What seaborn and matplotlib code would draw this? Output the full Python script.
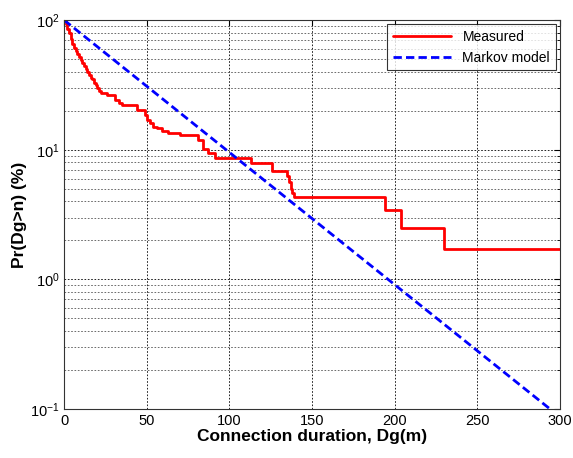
import numpy as np
import pandas as pd
import matplotlib
matplotlib.use("Agg")
import matplotlib.pyplot as plt
import matplotlib.ticker as mticker
import seaborn as sns

# -------------------------------
# Data
# -------------------------------
measured_x = [0, 1, 2, 3, 4, 5, 6, 7, 8, 9, 10, 11, 12, 13, 14, 15, 16, 17, 18,
              19, 20, 21, 22, 26, 31, 33, 35, 44, 49, 50, 52, 54, 56, 59, 63,
              70, 81, 84, 87, 91, 113, 126, 135, 136, 137, 138, 139, 194, 204,
              230, 300]
measured_y = [100, 93, 86, 79, 72, 66, 61, 58, 55, 52, 49, 47, 44, 42, 40, 38,
              36, 35, 33, 31.6, 30, 28.5, 27.3, 26.3, 24, 22.8, 22.1, 20.4,
              18.5, 16.9, 16, 15, 14.6, 14, 13.5, 13.0, 12.0, 10.2, 9.4, 8.6,
              7.86, 6.9, 6.3, 5.6, 5.0, 4.6, 4.3, 3.41, 2.5, 1.71, 1.71]

markov_x = [0, 300]
markov_y = [100, 0.087]

df_meas = pd.DataFrame({"x": measured_x, "y": measured_y})
df_markov = pd.DataFrame({"x": markov_x, "y": markov_y})

# -------------------------------
# Style
# -------------------------------
sns.set_style("white")
plt.rcParams["font.family"] = ["Liberation Sans", "DejaVu Sans"]
plt.rcParams["mathtext.fontset"] = "custom"
plt.rcParams["mathtext.rm"] = "Liberation Sans"
plt.rcParams["mathtext.it"] = "Liberation Sans:italic"
plt.rcParams["text.color"] = "k"
plt.rcParams["axes.labelcolor"] = "k"
plt.rcParams["xtick.color"] = "k"
plt.rcParams["ytick.color"] = "k"

fig = plt.figure(figsize=(5.73, 4.58), dpi=100)
ax = fig.add_axes([0.112, 0.107, 0.865, 0.849])

sns.lineplot(data=df_meas, x="x", y="y", ax=ax, color="#ff0000", lw=2,
             drawstyle="steps-post", estimator=None, label="Measured")
sns.lineplot(data=df_markov, x="x", y="y", ax=ax, color="#0000ff", lw=2,
             linestyle=(0, (3, 1.5)), estimator=None, label="Markov model")

ax.set_yscale("log")
ax.set_xlim(0, 300)
ax.set_ylim(0.1, 100)
ax.set_xticks([0, 50, 100, 150, 200, 250, 300])
ax.yaxis.set_major_locator(mticker.LogLocator(base=10, numticks=10))
ax.yaxis.set_minor_locator(mticker.LogLocator(base=10, subs=np.arange(2, 10), numticks=10))
ax.yaxis.set_minor_formatter(mticker.NullFormatter())

ax.grid(True, which="major", axis="both", color="k", linestyle=(0, (2, 2)), lw=0.6)
ax.grid(True, which="minor", axis="y", color="#555555", linestyle=(0, (2, 2)), lw=0.6)
ax.set_axisbelow(True)

ax.tick_params(which="both", direction="in", top=True, right=True,
               labelsize=10.5, colors="k", length=4)
ax.tick_params(which="minor", length=2)
for s in ax.spines.values():
    s.set_color("#333333")
    s.set_linewidth(0.8)

ax.set_xlabel("Connection duration, Dg(m)", fontsize=12.5, fontweight="bold", labelpad=1)
ax.set_ylabel("Pr(Dg>n) (%)", fontsize=12.5, fontweight="bold", labelpad=2)

leg = ax.legend(loc="upper right", fontsize=10, frameon=True, fancybox=False,
                borderaxespad=0.3, handlelength=4.2)
leg.get_frame().set_edgecolor("k")
leg.get_frame().set_linewidth(0.8)

fig.savefig("out.png", dpi=100)
